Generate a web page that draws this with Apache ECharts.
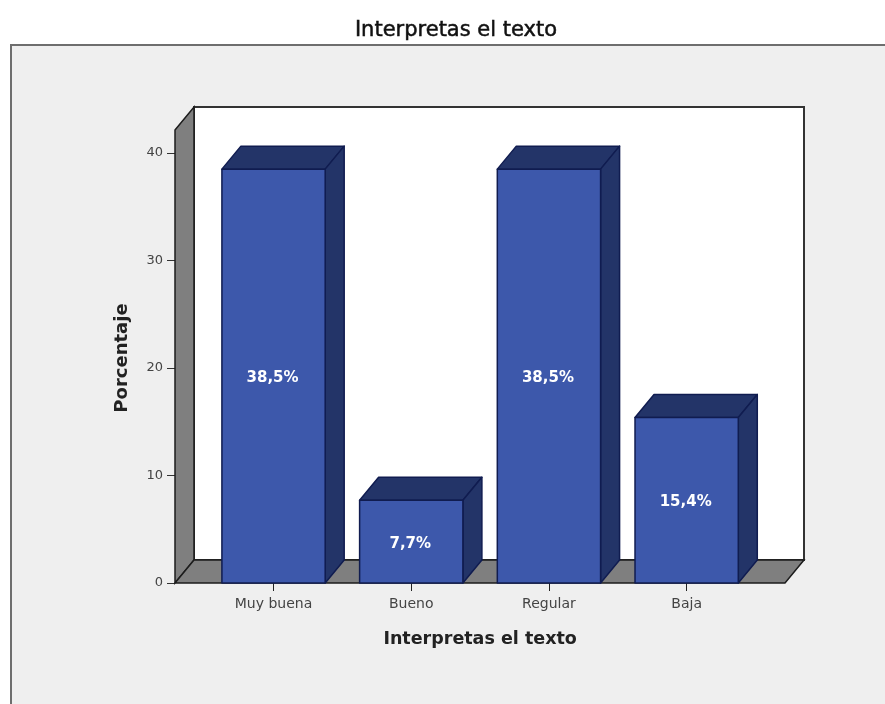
<!DOCTYPE html>
<html>
<head>
<meta charset="utf-8">
<style>html,body{margin:0;padding:0;background:#fff}#c{width:885px;height:704px;filter:blur(0.5px)}</style>
<script src="https://cdn.jsdelivr.net/npm/echarts@6/dist/echarts.min.js"></script>
</head>
<body>
<div id="c"></div>
<script>
const categories = ['Muy buena', 'Bueno', 'Regular', 'Baja'];
const percentages = [38.5, 7.7, 38.5, 15.4];
const valueLabels = ['38,5%', '7,7%', '38,5%', '15,4%'];
const titleText = 'Interpretas el texto';
const xAxisTitle = 'Interpretas el texto';
const yAxisTitle = 'Porcentaje';

const FONT = '"DejaVu Sans", sans-serif';
const DX = 19, DY = 23, WALL_TOP = 42.14, LEFT_PAD = 29.7, RIGHT_PAD = 29.5;

const chart = echarts.init(document.getElementById('c'), null, {renderer: 'canvas'});

function renderWalls(params, api) {
  const cs = params.coordSys;
  const y0 = api.coord([0, 0])[1];
  const yt = api.coord([0, WALL_TOP])[1];
  const xl = cs.x - LEFT_PAD, xr = cs.x + cs.width + RIGHT_PAD;
  const edge = {stroke: '#1c1c1c', lineWidth: 1.5};
  const poly = (pts, fill, st) => ({type: 'polygon', shape: {points: pts}, style: Object.assign({fill}, st || edge)});
  return {type: 'group', children: [
    poly([[xl + DX, yt - DY], [xr + DX, yt - DY], [xr + DX, y0 - DY], [xl + DX, y0 - DY]], '#ffffff', {stroke: '#333', lineWidth: 2}),
    poly([[xl, yt], [xl + DX, yt - DY], [xl + DX, y0 - DY], [xl, y0]], '#7f7f7f'),
    poly([[xl, y0], [xl + DX, y0 - DY], [xr + DX, y0 - DY], [xr, y0]], '#7f7f7f')
  ]};
}

function renderBar(params, api) {
  const idx = api.value(0), val = api.value(1);
  const c = api.coord([idx, val]);
  const base = api.coord([idx, 0])[1];
  const w = api.size([1, 0])[0] * 0.75;
  const l = c[0] - w / 2, r = c[0] + w / 2, t = c[1];
  const edge = {stroke: '#101c50', lineWidth: 1.5, lineJoin: 'round'};
  const side = (pts, fill) => ({type: 'polygon', shape: {points: pts}, style: Object.assign({fill}, edge)});
  return {type: 'group', children: [
    side([[l, t], [l + DX, t - DY], [r + DX, t - DY], [r, t]], '#233468'),
    side([[r, t], [r + DX, t - DY], [r + DX, base - DY], [r, base]], '#233468'),
    side([[l, t], [r, t], [r, base], [l, base]], '#3d58ab'),
    {type: 'text', style: {
      x: c[0] - 1, y: (t + base) / 2 + 2, text: valueLabels[params.dataIndex],
      fill: '#ffffff', font: 'bold 15px ' + FONT, align: 'center', verticalAlign: 'middle'
    }}
  ]};
}

chart.setOption({
  animation: false,
  backgroundColor: '#ffffff',
  graphic: [{
    type: 'rect', z: -10, silent: true,
    shape: {x: 11, y: 45, width: 890, height: 680},
    style: {fill: '#efefef', stroke: '#6e6e6e', lineWidth: 2}
  }],
  title: {
    text: titleText, left: 451, top: 15, textAlign: 'center',
    textStyle: {fontFamily: FONT, fontSize: 21, fontWeight: 'normal', color: '#111', textBorderColor: '#111', textBorderWidth: 0.5}
  },
  grid: {left: 204.7, right: 129.5, top: 153, bottom: 121},
  xAxis: {
    type: 'category', data: categories,
    name: xAxisTitle, nameLocation: 'middle', nameGap: 47,
    nameTextStyle: {fontFamily: FONT, fontSize: 17.5, fontWeight: 'bold', color: '#222'},
    axisLine: {show: false},
    axisTick: {show: true, alignWithLabel: true, length: 8, lineStyle: {color: '#222', width: 1}},
    axisLabel: {fontFamily: FONT, fontSize: 14, color: '#444', margin: 14, interval: 0}
  },
  yAxis: {
    type: 'value', min: 0, max: 40, interval: 10, offset: LEFT_PAD,
    name: yAxisTitle, nameLocation: 'middle', nameGap: 44,
    nameTextStyle: {fontFamily: FONT, fontSize: 18, fontWeight: 'bold', color: '#222', padding: [0, 0, 0, 20]},
    axisLine: {show: false},
    axisTick: {show: true, length: 8, lineStyle: {color: '#333', width: 1}},
    axisLabel: {fontFamily: FONT, fontSize: 13, color: '#444', margin: 12},
    splitLine: {show: false}
  },
  series: [
    {type: 'custom', z: 1, clip: false, silent: true, renderItem: renderWalls, data: [[0, 0]], encode: {x: 0, y: 1}},
    {type: 'custom', z: 2, clip: false, renderItem: renderBar,
     data: percentages.map((v, i) => [i, v]), encode: {x: 0, y: 1}}
  ]
});
</script>
</body>
</html>
